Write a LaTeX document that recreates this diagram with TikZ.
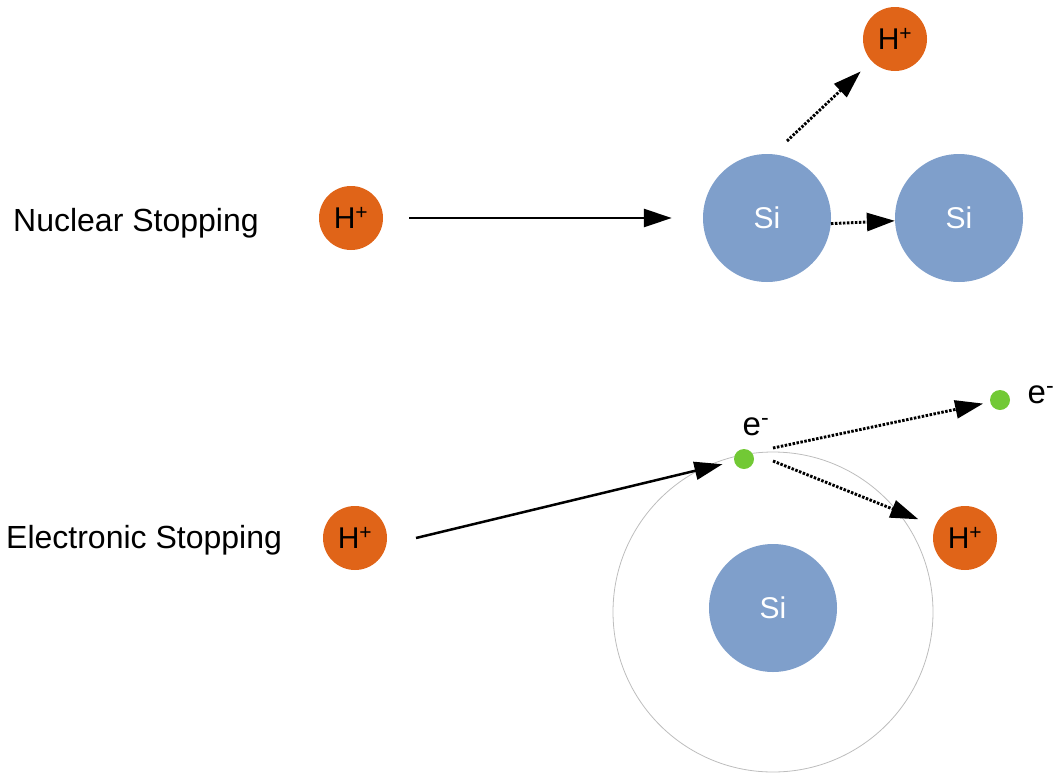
\documentclass[tikz,border=0pt]{standalone}
\usepackage{fontspec}
\setmainfont{Liberation Sans}
\usetikzlibrary{arrows.meta}
\definecolor{cH}{HTML}{E06418}
\definecolor{cSi}{HTML}{7F9FCB}
\definecolor{cEl}{HTML}{72C935}
\definecolor{orbitgrey}{HTML}{BDBDBD}
\tikzset{
  proton/.style={circle,fill=cH,minimum size=64pt,inner sep=0pt,font=\fontsize{30}{34}\selectfont},
  atom/.style={circle,fill=cSi,minimum size=128pt,inner sep=0pt,text=white,font=\fontsize{30}{34}\selectfont},
  electron/.style={circle,fill=cEl,minimum size=20pt,inner sep=0pt},
  lbl/.style={inner sep=0pt,font=\fontsize{32}{36}\selectfont},
  hit/.style={line width=2.5pt,-{Triangle[length=28pt,width=18pt]}},
  kick/.style={hit,line width=2.9pt,dash pattern=on 2.5pt off 1.5pt},
  orbit/.style={orbitgrey,line width=0.8pt}}
\newcommand{\elabel}[2]{\node[lbl,anchor=base,font=\fontsize{33}{36}\selectfont] (#1) at (#2) {e\textsuperscript{-}};}

\begin{document}
\begin{tikzpicture}[x=1pt,y=-1pt]
  \useasboundingbox (0,0) rectangle (1057,774);
  % nuclear stopping
  \node[lbl,anchor=base west] (nuc) at (13,231) {Nuclear Stopping};
  \foreach \n/\p in {h1/{351,218},h2/{895,39},h3/{355,538},h4/{965,538}}
    \node[proton] (\n) at (\p) {H\textsuperscript{+}};
  \node[atom] (si1) at (767,218) {Si};
  \node[atom] (si2) at (959,218) {Si};
  \coordinate (kickA) at (787,141);
  \draw[hit,shorten <=26pt,shorten >=31pt] (h1) -- (si1);
  \draw[kick] (si1.-5) -- (si2);
  \draw[kick,shorten >=15pt] (kickA) -- (h2);
  % electronic stopping
  \node[lbl,anchor=base west] (elec) at (6,548) {Electronic Stopping};
  \draw[orbit] (773,612) circle[radius=160pt];
  \node[atom] (si3) at (773,608) {Si};
  \node[electron] (e1) at (744,459) {};
  \node[electron] (e2) at (1000,400) {};
  \elabel{el1}{756,435}
  \elabel{el2}{1041,403}
  \coordinate (inA) at (416,538);
  \coordinate (outA) at (773,448);
  \coordinate (outB) at (773,461);
  \draw[hit,shorten >=12pt] (inA) -- (e1);
  \draw[kick,shorten >=7pt] (outA) -- (e2);
  \draw[kick,shorten >=18pt] (outB) -- (h4);
\end{tikzpicture}
\end{document}
